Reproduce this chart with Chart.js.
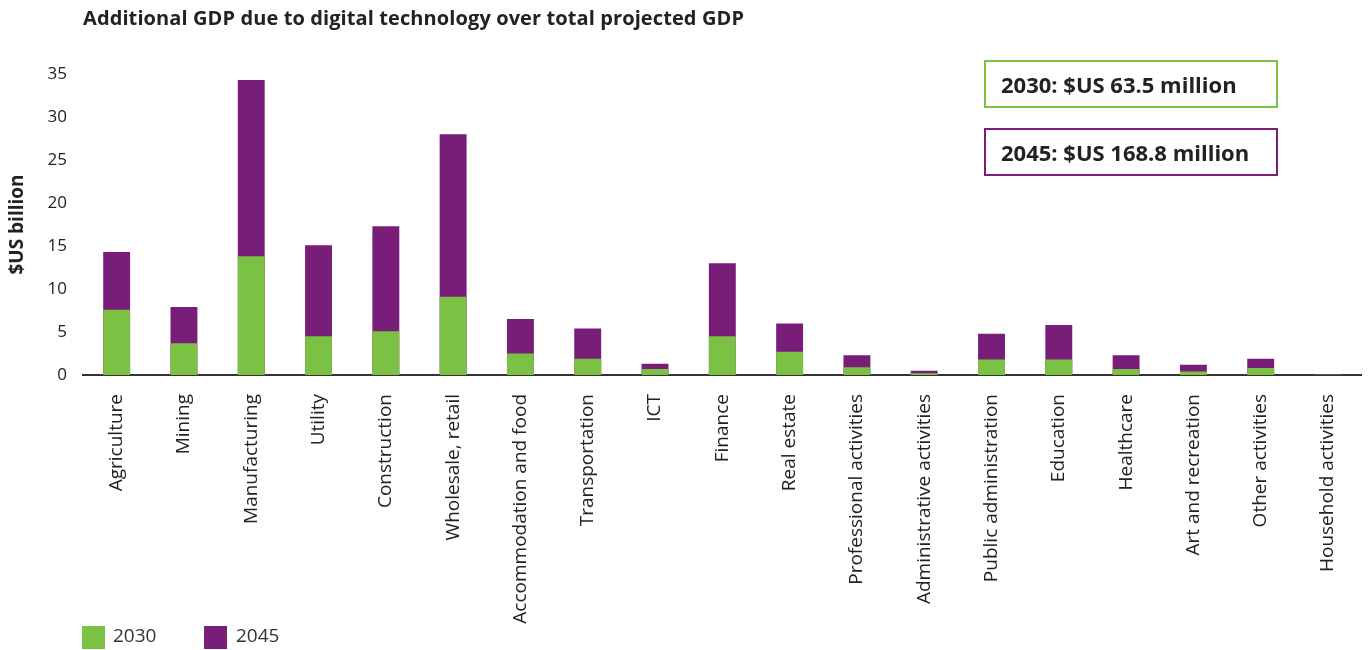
<!DOCTYPE html>
<html>
<head>
<meta charset="utf-8">
<script src="https://cdn.jsdelivr.net/npm/chart.js@4"></script>
<style>
  html, body { margin: 0; padding: 0; background: #fff; }
  body { width: 1370px; height: 650px; position: relative; overflow: hidden; font-family: "Open Sans", sans-serif; color: #222; }
  #wrap { position: absolute; left: 0; top: 0; width: 1370px; height: 650px; }
  .title { position: absolute; left: 83px; top: 4px; font-size: 20px; font-weight: 700; letter-spacing: 0.1px; }
  .box { position: absolute; left: 984px; height: 44px; line-height: 44px; padding-left: 15px; box-sizing: content-box; font-size: 22px; font-weight: 700; }
  .g { top: 60px; border: 2.5px solid #7bc143; width: 275px; }
  .p { top: 128px; border: 2.5px solid #781e79; width: 275px; }
  .leg { position: absolute; top: 626px; width: 23px; height: 23px; }
  .legt { position: absolute; top: 622px; font-size: 19px; color: #333; }
</style>
</head>
<body>
<div id="wrap"><canvas id="chartGdp" width="1370" height="650"></canvas></div>
<div class="title">Additional GDP due to digital technology over total projected GDP</div>
<div class="box g">2030: $US 63.5 million</div>
<div class="box p">2045: $US 168.8 million</div>
<div class="leg" style="left:82px;background:#7bc143"></div>
<div class="legt" style="left:113px">2030</div>
<div class="leg" style="left:204px;background:#781e79"></div>
<div class="legt" style="left:236px">2045</div>
<script>
const sectors = ['Agriculture', 'Mining', 'Manufacturing', 'Utility', 'Construction', 'Wholesale, retail',
  'Accommodation and food', 'Transportation', 'ICT', 'Finance', 'Real estate', 'Professional activities',
  'Administrative activities', 'Public administration', 'Education', 'Healthcare', 'Art and recreation',
  'Other activities', 'Household activities'];
const gdp2030 = [7.6, 3.7, 13.8, 4.5, 5.1, 9.1, 2.5, 1.9, 0.7, 4.5, 2.7, 0.9, 0.2, 1.8, 1.8, 0.7, 0.4, 0.8, 0.02];
const gdp2045 = [14.3, 7.9, 34.3, 15.1, 17.3, 28.0, 6.5, 5.4, 1.3, 13.0, 6.0, 2.3, 0.5, 4.8, 5.8, 2.3, 1.2, 1.9, 0.1];
const yTicks = [0, 5, 10, 15, 20, 25, 30, 35];

const corVerde = '#7bc143';
const corRoxa = '#781e79';

// 2030 first so it is drawn on top of the 2045 bar
const ctx = document.getElementById('chartGdp');
const chartGdp = new Chart(ctx, {
  type: 'bar',
  data: {
    labels: sectors,
    datasets: [
      { label: '2030', data: gdp2030, backgroundColor: corVerde },
      { label: '2045', data: gdp2045, backgroundColor: corRoxa }
    ]
  },
  options: {
    responsive: false,
    animation: false,
    layout: { padding: { top: 74, right: 8, left: 0, bottom: 0 } },
    plugins: { legend: { display: false }, tooltip: { enabled: false } },
    datasets: { bar: { categoryPercentage: 1, barPercentage: 0.4 } },
    scales: {
      x: {
        stacked: true,
        grid: { display: false, drawTicks: false },
        border: { display: true, color: '#333', width: 2 },
        ticks: {
          minRotation: 90, maxRotation: 90, autoSkip: false, padding: 19,
          color: '#222', font: { family: 'Open Sans', size: 19 }
        },
        afterFit: (scale) => { scale.height = 275; }
      },
      y: {
        stacked: false,
        min: 0, max: 35,
        grid: { display: false, drawTicks: false },
        border: { display: false },
        afterBuildTicks: (scale) => { scale.ticks = yTicks.map(v => ({ value: v })); },
        ticks: { padding: 16, color: '#222', font: { family: 'Open Sans', size: 17 } },
        title: {
          display: true, text: '$US billion', color: '#222',
          font: { family: 'Open Sans', size: 19, weight: 'bold' },
          padding: { top: 6, bottom: 0 }
        },
        afterFit: (scale) => { scale.width = 83; }
      }
    }
  }
});
</script>
</body>
</html>
